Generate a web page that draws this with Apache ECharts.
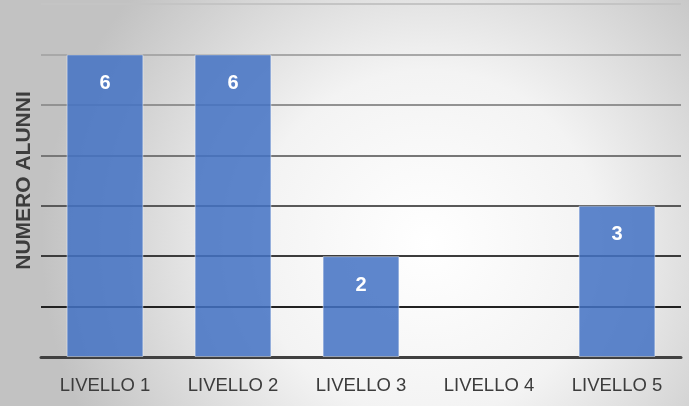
<!DOCTYPE html>
<html>
<head>
<meta charset="utf-8">
<script src="https://cdn.jsdelivr.net/npm/echarts@6/dist/echarts.min.js"></script>
<style>html,body{margin:0;padding:0;}#c{width:689px;height:406px;}</style>
</head>
<body>
<div id="c"></div>
<script>
const categories = ['LIVELLO 1', 'LIVELLO 2', 'LIVELLO 3', 'LIVELLO 4', 'LIVELLO 5'];
const values = [6, 6, 2, null, 3];
const yAxisTitle = 'NUMERO ALUNNI';
const yMin = 0, yMax = 7, yInterval = 1;

const chart = echarts.init(document.getElementById('c'));
chart.setOption({
  backgroundColor: {
    type: 'radial', x: 0.62, y: 0.6, r: 0.95,
    colorStops: [
      { offset: 0, color: '#ffffff' },
      { offset: 0.45, color: '#f3f3f3' },
      { offset: 1, color: '#c2c2c2' }
    ]
  },
  animation: false,
  grid: { left: 41, right: 8, top: 4, bottom: 49, containLabel: false, outerBoundsMode: 'none' },
  xAxis: {
    type: 'category',
    data: categories,
    axisLine: { lineStyle: { color: '#404040', width: 3 } },
    axisTick: { show: false },
    axisLabel: {
      interval: 0,
      color: '#3c3c3c', fontSize: 18.5, margin: 19,
      fontFamily: '"Liberation Sans", sans-serif'
    }
  },
  yAxis: {
    type: 'value', min: yMin, max: yMax, interval: yInterval,
    name: yAxisTitle,
    nameLocation: 'middle',
    nameGap: 6,
    nameTextStyle: {
      color: '#3c3c3c', fontSize: 21, fontWeight: 'bold',
      fontFamily: '"Liberation Sans", sans-serif'
    },
    axisLabel: { show: false },
    axisTick: { show: false },
    axisLine: { show: false },
    splitLine: {
      lineStyle: {
        width: 2,
        color: ['#404040', '#222222', '#3c3c3c', '#595959', '#777777', '#929292', '#a8a8a8', '#c4c4c4']
      }
    }
  },
  series: [{
    type: 'bar',
    data: values,
    barWidth: '60%',
    z: 1,
    itemStyle: {
      color: 'rgba(68,114,196,0.86)',
      borderColor: 'rgba(255,255,255,0.45)',
      borderWidth: 1
    },
    label: {
      show: true, position: 'insideTop', distance: 19,
      color: '#ffffff', fontSize: 20, fontWeight: 'bold',
      fontFamily: '"Liberation Sans", sans-serif'
    }
  }]
});
</script>
</body>
</html>
